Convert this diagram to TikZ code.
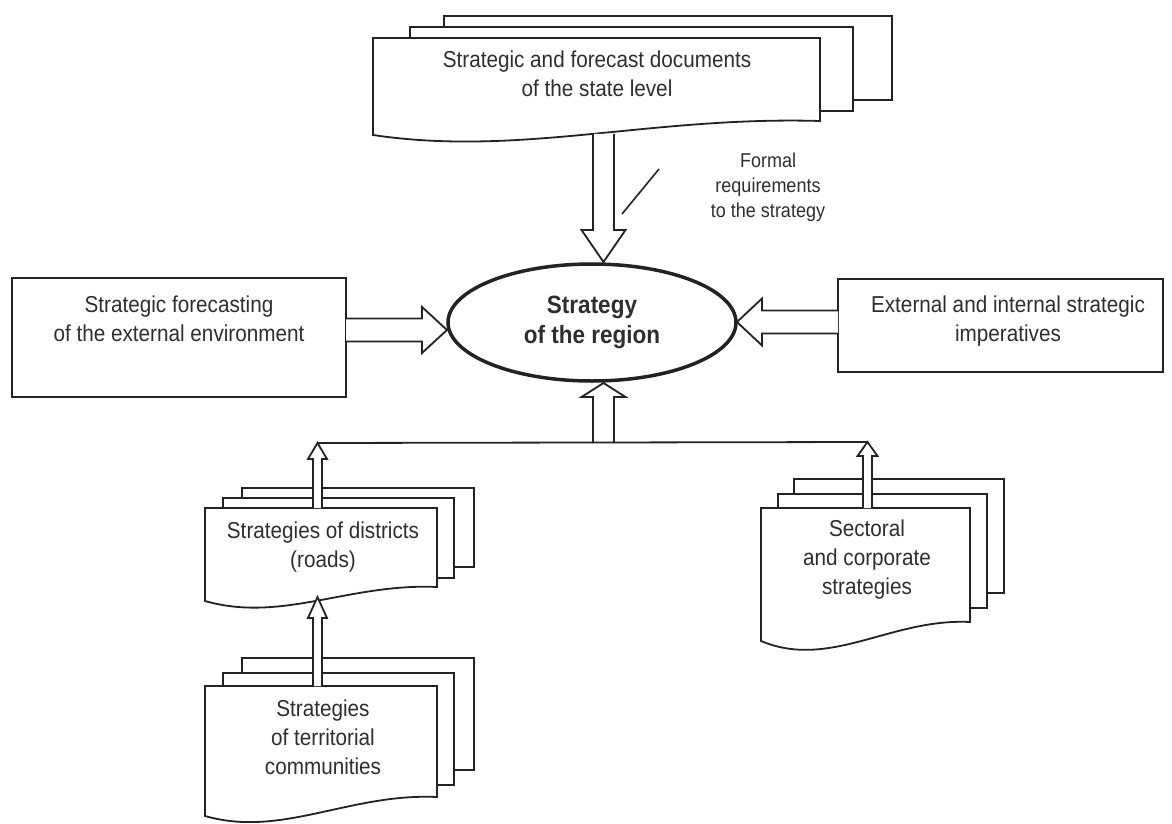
\documentclass[tikz,border=0pt]{standalone}
\usepackage{fontspec}
\setmainfont{Liberation Sans}[FakeStretch=0.9]
\usetikzlibrary{calc,shapes.geometric}
\definecolor{ink}{HTML}{222222}
\definecolor{txt}{HTML}{2E2E2E}
% block arrow pointing down (tip below tail)
\newcommand\blockdown[5]{%
  \draw[conn] let \p1=(#1),\p2=(#2) in (\x2-#3,\y1) -- (\x2-#3,\y2+#5) -- (\x2-#4,\y2+#5) -- (\x2,\y2) -- (\x2+#4,\y2+#5) -- (\x2+#3,\y2+#5) -- (\x2+#3,\y1);}
% block arrow pointing up (tip above tail)
\newcommand\blockup[5]{%
  \draw[conn] let \p1=(#1),\p2=(#2) in (\x2-#3,\y1) -- (\x2-#3,\y2-#5) -- (\x2-#4,\y2-#5) -- (\x2,\y2) -- (\x2+#4,\y2-#5) -- (\x2+#3,\y2-#5) -- (\x2+#3,\y1);}
% block arrow pointing right
\newcommand\blockright[5]{%
  \draw[conn] let \p1=(#1),\p2=(#2) in (\x1,\y2+#3) -- (\x2-#5,\y2+#3) -- (\x2-#5,\y2+#4) -- (\x2,\y2) -- (\x2-#5,\y2-#4) -- (\x2-#5,\y2-#3) -- (\x1,\y2-#3);}
% block arrow pointing left
\newcommand\blockleft[5]{%
  \draw[conn] let \p1=(#1),\p2=(#2) in (\x1,\y2+#3) -- (\x2+#5,\y2+#3) -- (\x2+#5,\y2+#4) -- (\x2,\y2) -- (\x2+#5,\y2-#4) -- (\x2+#5,\y2-#3) -- (\x1,\y2-#3);}
\begin{document}
\begin{tikzpicture}[x=1pt,y=-1pt,line join=miter,
  sheet/.style={draw=ink,line width=1.8pt,fill=white},
  conn/.style={draw=ink,line width=1.8pt,fill=white},
  lbl/.style={text=txt,align=center,inner sep=0pt,anchor=base,font=\fontsize{23}{29}\selectfont},
  small/.style={text=txt,align=center,inner sep=0pt,anchor=base,font=\fontsize{20}{25}\selectfont}]
\useasboundingbox (0,0) rectangle (1172,824);

% ---------- top document stack ----------
\draw[sheet] (444,27) -- (444,16) -- (892,16) -- (892,100) -- (853,100);
\draw[sheet] (410,38) -- (410,27) -- (853,27) -- (853,111) -- (820,111);
\draw[sheet] (373,135) -- (373,38) -- (820,38) -- (820,121)
   .. controls (650,116) and (520,157) .. (373,135) -- cycle;
\node[lbl] (state) at (597,97) {Strategic and forecast documents\\of the state level};

% ---------- left and right boxes ----------
\draw[sheet] (12,278) rectangle (346,397);
\node[lbl] (env) at (179,341) {Strategic forecasting\\of the external environment};
\draw[sheet] (838,279) rectangle (1163,372);
\node[lbl] (imp) at (1008,341) {External and internal strategic\\imperatives};

% ---------- central ellipse ----------
\node[draw=ink,line width=3.5pt,ellipse,minimum width=288pt,minimum height=117pt,inner sep=0pt,
      align=center,text=txt,font=\bfseries\fontsize{25}{30}\selectfont] (ell) at (592,322.5) {Strategy\\of the region};

% ---------- districts stack ----------
\draw[sheet] (242,498) -- (242,488) -- (474,488) -- (474,567) -- (454,567);
\draw[sheet] (223,508) -- (223,498) -- (454,498) -- (454,578) -- (437,578);
\draw[sheet] (205,601) -- (205,508) -- (437,508) -- (437,587)
   .. controls (349,583) and (282,623) .. (205,601) -- cycle;
\node[lbl] (dist) at (323,567) {Strategies of districts\\(roads)};

% ---------- territorial stack ----------
\draw[sheet] (242,673) -- (242,658) -- (474,658) -- (474,770) -- (454,770);
\draw[sheet] (223,686) -- (223,673) -- (454,673) -- (454,785) -- (437,785);
\draw[sheet] (205,816) -- (205,686) -- (437,686) -- (437,797)
   .. controls (349,793) and (282,838) .. (205,816) -- cycle;
\node[lbl] (terr) at (323,774) {Strategies\\of territorial\\communities};

% ---------- sectoral stack ----------
\draw[sheet] (794,494) -- (794,479) -- (1004,479) -- (1004,593) -- (987,593);
\draw[sheet] (778,508) -- (778,494) -- (987,494) -- (987,608) -- (970,608);
\draw[sheet] (761,641) -- (761,508) -- (970,508) -- (970,622)
   .. controls (891,618) and (830,670) .. (761,641) -- cycle;
\node[lbl] (sect) at (867,594) {Sectoral\\and corporate\\strategies};

% ---------- label of requirements ----------
\node[small] (formal) at (768,217) {Formal\\requirements\\to the strategy};
\coordinate (slashA) at (622,214);
\coordinate (slashB) at (659,169);
\draw[draw=ink,line width=1.6pt] (slashA) -- (slashB);

% ---------- connector coordinates ----------
\coordinate (stateOut) at (603.5,134);
\coordinate (ellTop) at (603.5,262);
\coordinate (envOut) at (346,330);
\coordinate (ellLeft) at (447,330);
\coordinate (impOut) at (838,322);
\coordinate (ellRight) at (737,322);
\coordinate (busMid) at (603.5,443);
\coordinate (ellBottom) at (603.5,383);
\coordinate (distTop) at (317.5,508);
\coordinate (busLeft) at (317.5,443);
\coordinate (terrTop) at (317.5,686);
\coordinate (distBottom) at (317.5,597);
\coordinate (sectTop) at (867.5,508);
\coordinate (busRight) at (867.5,442);

% ---------- connectors ----------
\blockdown{stateOut}{ellTop}{10.5pt}{22pt}{32pt}
\blockup{busMid}{ellBottom}{10.5pt}{22pt}{14pt}
\blockright{envOut}{ellLeft}{11.5pt}{23pt}{25pt}
\blockleft{impOut}{ellRight}{11.5pt}{23.5pt}{25pt}
\blockup{distTop}{busLeft}{4.5pt}{9.5pt}{16pt}
\blockup{terrTop}{distBottom}{4.5pt}{9.5pt}{21pt}
\blockup{sectTop}{busRight}{4.5pt}{10pt}{14pt}
\draw[draw=ink,line width=1.8pt] (busLeft) -- (busRight);
\end{tikzpicture}
\end{document}
